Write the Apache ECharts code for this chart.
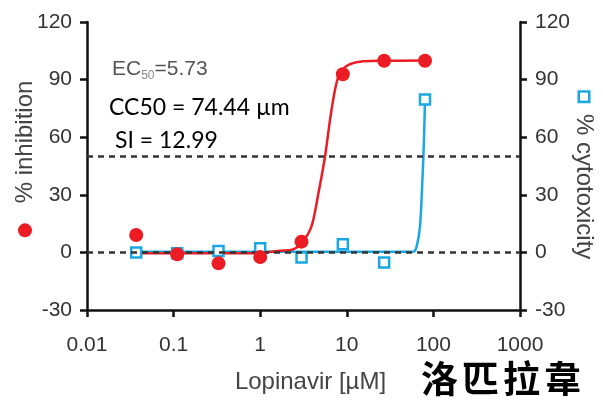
<!DOCTYPE html>
<html>
<head>
<meta charset="utf-8">
<script src="https://cdn.jsdelivr.net/npm/echarts@6/dist/echarts.min.js"></script>
<style>
  html, body { margin: 0; padding: 0; background: #fff; }
  #chart { width: 603px; height: 400px; }
</style>
</head>
<body>
<div id="chart"></div>
<script>
// Lopinavir concentrations (µM), 3-fold dilution series
const concentrations = [0.037, 0.11, 0.33, 1, 3, 9, 27, 80];
// Measured % inhibition (antiviral) and % cytotoxicity
const inhibition = [9.1, -1.0, -5.7, -2.4, 5.6, 92.8, 99.8, 99.8];
const cytotoxicity = [0.0, -0.5, 0.7, 2.1, -2.6, 4.2, -5.2, 79.7];

// Fitted dose-response curves, traced points
const inhibitionFitX = [0.037, 0.3, 1, 1.7, 2.4, 3.0, 3.9, 4.7, 5.6, 6.4, 7.3, 8.3, 10.4, 14.2, 24, 80];
const inhibitionFitY = [-0.5, -0.5, -0.3, 0.9, 1.6, 4.7, 13.4, 30.8, 49.8, 69, 84.6, 93.3, 97.6, 99.3, 99.8, 100];
const cytotoxicityFitX = [0.037, 1, 10, 58.6, 64, 70, 75.2, 77.8, 80];
const cytotoxicityFitY = [0.3, 0.3, 0.3, 0.4, 3, 13.4, 41, 58.5, 79.7];

// Axis tick labels
const xTickLabels = ['0.01', '0.1', '1', '10', '100', '1000'];
const yTickValues = [-30, 0, 30, 60, 90, 120];
const referenceLevels = [50, 0];

// Drug name caption
const drugName = '洛匹拉韋';

const RED = '#ec1c24';
const BLUE = '#1aa8e4';
const AXIS = '#111';
const FONT = 'Liberation Sans';

const zip = (xs, ys) => xs.map((x, i) => [x, ys[i]]);

const chart = echarts.init(document.getElementById('chart'));

const yAxisBase = {
  type: 'value',
  min: yTickValues[0],
  max: yTickValues[yTickValues.length - 1],
  interval: 30,
  splitLine: { show: false },
  axisLine: { show: true, lineStyle: { color: AXIS, width: 2.5 } },
  axisTick: { show: true, length: 7, lineStyle: { color: AXIS, width: 2.5 } },
  axisLabel: { color: '#333', fontFamily: FONT, fontSize: 21, margin: 15 },
  nameLocation: 'middle',
  nameMoveOverlap: false,
  nameTextStyle: { color: '#444', fontFamily: FONT, fontSize: 24 }
};

const captionChars = drugName.split('').map((ch, i) => ({
  type: 'text', left: 421 + i * 41, top: 360,
  style: { text: ch, fill: '#000', font: 'bold 37px "Noto Sans CJK TC"' }
}));

chart.setOption({
  animation: false,
  backgroundColor: '#fff',
  grid: { left: 87, right: 83, top: 22, bottom: 90, containLabel: false, outerBoundsMode: 'none' },
  xAxis: {
    type: 'log',
    logBase: 10,
    min: 0.01,
    max: 1000,
    splitLine: { show: false },
    axisLine: { show: true, onZero: false, lineStyle: { color: AXIS, width: 2.5 } },
    axisTick: { show: true, length: 7, lineStyle: { color: AXIS, width: 2.5 } },
    minorTick: { show: false },
    axisLabel: {
      color: '#333', fontFamily: FONT, fontSize: 21, margin: 25,
      formatter: v => xTickLabels[Math.round(Math.log10(v)) + 2]
    },
    name: 'Lopinavir [µM]',
    nameLocation: 'middle',
    nameGap: 60,
    nameTextStyle: { color: '#444', fontFamily: FONT, fontSize: 24, padding: [0, 0, 0, 14] }
  },
  yAxis: [
    Object.assign({}, yAxisBase, {
      position: 'left',
      name: '{dot|}   % inhibition',
      nameGap: 50,
      nameTextStyle: Object.assign({}, yAxisBase.nameTextStyle, {
        padding: [0, 0, 0, 14],
        rich: {
          dot: { width: 14, height: 14, backgroundColor: RED, borderRadius: 7 }
        }
      })
    }),
    Object.assign({}, yAxisBase, {
      position: 'right',
      name: '{sq|}  % cytotoxicity',
      nameGap: 52,
      nameRotate: -90,
      nameTextStyle: Object.assign({}, yAxisBase.nameTextStyle, {
        padding: [0, 0, 0, 20],
        rich: {
          sq: { width: 8, height: 8, borderColor: BLUE, borderWidth: 2.5, backgroundColor: '#fff' }
        }
      })
    })
  ],
  series: [
    {
      name: 'reference levels',
      type: 'line',
      data: [],
      z: 1,
      markLine: {
        silent: true,
        symbol: 'none',
        label: { show: false },
        lineStyle: { color: '#333', width: 2.5, type: [6, 5] },
        data: referenceLevels.map(v => ({ yAxis: v }))
      }
    },
    {
      name: '% cytotoxicity fit',
      type: 'line',
      yAxisIndex: 1,
      data: zip(cytotoxicityFitX, cytotoxicityFitY),
      showSymbol: false,
      smooth: 0.3,
      lineStyle: { color: BLUE, width: 2.5 },
      z: 2
    },
    {
      name: '% inhibition fit',
      type: 'line',
      data: zip(inhibitionFitX, inhibitionFitY),
      showSymbol: false,
      smooth: 0.3,
      lineStyle: { color: RED, width: 2.5 },
      z: 3
    },
    {
      name: '% cytotoxicity',
      type: 'scatter',
      yAxisIndex: 1,
      data: zip(concentrations, cytotoxicity),
      symbol: 'rect',
      symbolSize: 10,
      itemStyle: { color: '#fff', borderColor: BLUE, borderWidth: 2.5, opacity: 1 },
      z: 4
    },
    {
      name: '% inhibition',
      type: 'scatter',
      data: zip(concentrations, inhibition),
      symbol: 'circle',
      symbolSize: 14,
      itemStyle: { color: RED, opacity: 1 },
      z: 5
    }
  ],
  graphic: [
    {
      type: 'text', left: 112, top: 59,
      style: {
        text: 'EC{sub|50}=5.73',
        fill: '#555', font: '21px "Liberation Sans"',
        rich: { sub: { fontSize: 12, fill: '#888', padding: [12, 0, 0, 0], fontFamily: FONT } }
      }
    },
    {
      type: 'text', left: 109, top: 96,
      style: { text: 'CC50 = 74.44 µm', fill: '#000', font: '23px Lato' }
    },
    {
      type: 'text', left: 115, top: 129,
      style: { text: 'SI = 12.99', fill: '#000', font: '23px Lato' }
    }
  ].concat(captionChars)
});
</script>
</body>
</html>
